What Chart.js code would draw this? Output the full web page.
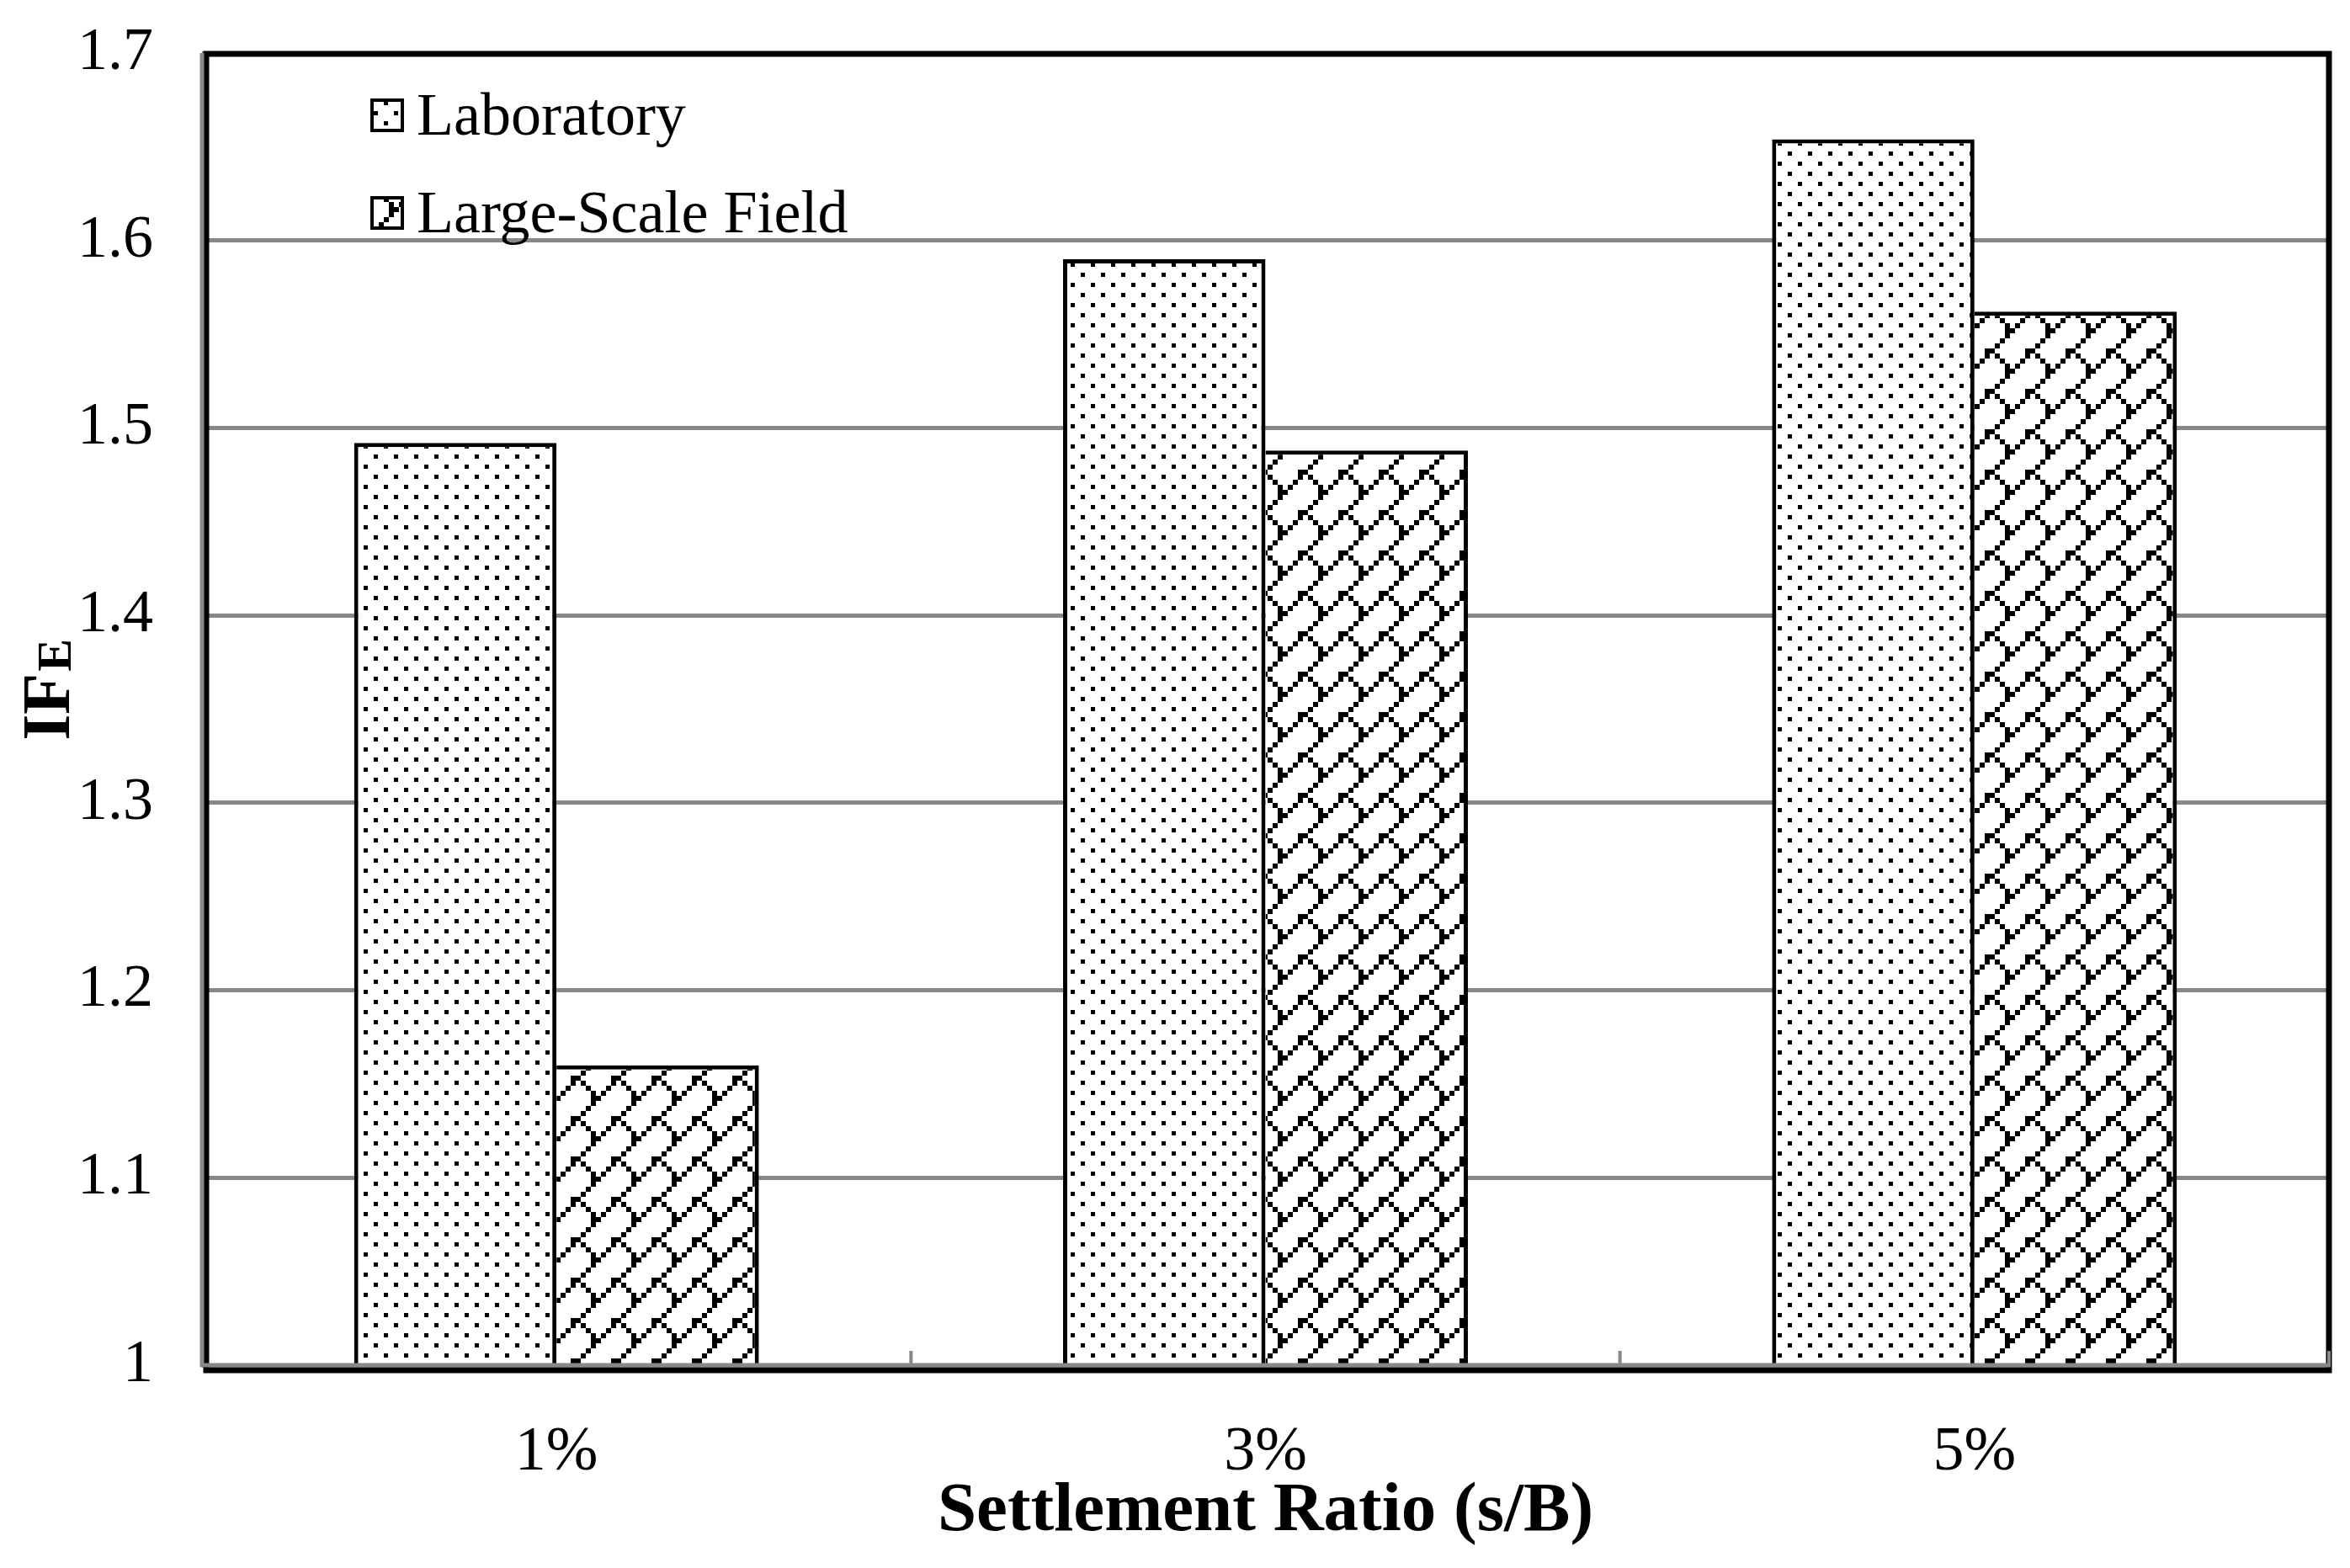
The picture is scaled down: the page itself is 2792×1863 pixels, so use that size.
<!DOCTYPE html>
<html>
<head>
<meta charset="utf-8">
<script src="https://cdn.jsdelivr.net/npm/chart.js@4.4.0/dist/chart.umd.min.js"></script>
<style>
  html, body { margin: 0; padding: 0; background: #fff; overflow: hidden; }
  canvas { display: block; }
</style>
</head>
<body>
<canvas id="ifeChart" width="2792" height="1863" style="width:2792px;height:1863px"></canvas>
<script>
// values
const categories = ['1%', '3%', '5%'];
const seriesNames = ['Laboratory', 'Large-Scale Field'];
const labValues = [1.492, 1.590, 1.654];
const fieldValues = [1.160, 1.488, 1.562];
const yMin = 1, yMax = 1.7, yStep = 0.1;

const GRID = '#888888';
const FONT = "'Liberation Serif', 'Times New Roman', serif";

// dotted fill (Excel style)
function dotPattern() {
    const t = document.createElement('canvas');
    t.width = 24; t.height = 24;
    const c = t.getContext('2d');
    c.fillStyle = '#fff'; c.fillRect(0, 0, 24, 24);
    c.fillStyle = '#000';
    c.fillRect(0, 0, 5, 5);
    c.fillRect(12, 12, 5, 5);
    return c.createPattern(t, 'repeat');
}

// shingle fill: one "/" diagonal per tile plus a short "\" link, 6px cells
function shinglePattern() {
    const cells = [];
    for (let col = 0; col < 8; col++) cells.push([col, 7 - col]);
    cells.push([3, 6], [4, 7], [5, 0]);   // the "\" link
    cells.push([1, 5], [5, 1]);           // thicker joints
    const u = 6;
    const t = document.createElement('canvas');
    t.width = 8 * u; t.height = 8 * u;
    const c = t.getContext('2d');
    c.fillStyle = '#fff'; c.fillRect(0, 0, t.width, t.height);
    c.fillStyle = '#000';
    cells.forEach(([col, row]) => c.fillRect(col * u, row * u, u, u));
    return c.createPattern(t, 'repeat');
}

const fills = [dotPattern(), shinglePattern()];

const framePlugin = {
    id: 'frame',
    afterDatasetsDraw(chart) {
        const { ctx, chartArea: a } = chart;
        ctx.save();
        // black frame
        ctx.strokeStyle = '#000';
        ctx.lineWidth = 7;
        ctx.strokeRect(a.left + 5, a.top + 1, a.right - a.left - 5, a.bottom - a.top + 5);
        // gray axis lines
        ctx.strokeStyle = GRID;
        ctx.lineWidth = 5;
        ctx.beginPath();
        ctx.moveTo(a.left, a.top);
        ctx.lineTo(a.left, a.bottom + 2);
        ctx.moveTo(a.left - 2, a.bottom);
        ctx.lineTo(a.right + 2, a.bottom);
        ctx.stroke();
        // category boundary ticks, pointing up
        const xs = chart.scales.x;
        const half = (xs.getPixelForValue(1) - xs.getPixelForValue(0)) / 2;
        ctx.lineWidth = 4;
        ctx.beginPath();
        for (let i = 0; i <= categories.length; i++) {
            const px = i < categories.length ? xs.getPixelForValue(i) - half : xs.getPixelForValue(i - 1) + half;
            ctx.moveTo(px, a.bottom - 17);
            ctx.lineTo(px, a.bottom);
        }
        ctx.stroke();
        ctx.restore();
    },
    afterDraw(chart) {
        const { ctx, chartArea: a } = chart;
        ctx.save();
        // y title IF with subscript E
        ctx.translate(82, (a.top + a.bottom) / 2 - 22);
        ctx.rotate(-Math.PI / 2);
        ctx.fillStyle = '#000';
        ctx.textBaseline = 'alphabetic';
        ctx.font = 'bold 80px ' + FONT;
        const w1 = ctx.measureText('IF').width;
        ctx.font = 'bold 58px ' + FONT;
        const w2 = ctx.measureText('E').width;
        const x0 = -(w1 + w2) / 2;
        ctx.font = 'bold 80px ' + FONT;
        ctx.fillText('IF', x0, 0);
        ctx.font = 'bold 58px ' + FONT;
        ctx.fillText('E', x0 + w1 + 2, 2);
        ctx.restore();

        // legend inside the plot
        ctx.save();
        ctx.font = '72px ' + FONT;
        ctx.textBaseline = 'alphabetic';
        seriesNames.forEach((name, i) => {
            const bx = a.left + 200, by = a.top + 54 + i * 116;
            ctx.fillStyle = fills[i];
            ctx.fillRect(bx, by, 40, 40);
            ctx.strokeStyle = '#000';
            ctx.lineWidth = 4;
            ctx.strokeRect(bx + 2, by + 2, 36, 36);
            ctx.fillStyle = '#000';
            ctx.fillText(name, a.left + 255, by + 43);
        });
        ctx.restore();
    }
};

const ctx = document.getElementById('ifeChart').getContext('2d');
new Chart(ctx, {
    type: 'bar',
    data: {
        labels: categories,
        datasets: [{
            label: seriesNames[0],
            data: labValues,
            backgroundColor: fills[0],
            borderColor: '#000',
            borderWidth: 5,
            borderSkipped: 'bottom'
        }, {
            label: seriesNames[1],
            data: fieldValues,
            backgroundColor: fills[1],
            borderColor: '#000',
            borderWidth: 5,
            borderSkipped: 'left'
        }]
    },
    options: {
        responsive: false,
        animation: false,
        devicePixelRatio: 1,
        layout: { padding: { top: 63, right: 25, left: 0, bottom: 0 } },
        datasets: { bar: { categoryPercentage: 0.571, barPercentage: 1.0 } },
        plugins: {
            legend: { display: false },
            tooltip: { enabled: false }
        },
        scales: {
            x: {
                grid: { display: false },
                border: { display: false },
                ticks: {
                    color: '#000',
                    font: { family: FONT, size: 74 },
                    padding: 52
                },
                title: {
                    display: true,
                    text: 'Settlement Ratio (s/B)',
                    color: '#000',
                    font: { family: FONT, size: 83, weight: 'bold' },
                    padding: { top: 0, bottom: 17 }
                },
                afterFit(scale) { scale.height = 241; }
            },
            y: {
                min: yMin,
                max: yMax,
                ticks: {
                    stepSize: yStep,
                    color: '#000',
                    font: { family: FONT, size: 72 },
                    padding: 58,
                    callback: v => String(Math.round(v * 10) / 10)
                },
                grid: {
                    color: GRID,
                    lineWidth: 5,
                    drawTicks: false
                },
                border: { display: false },
                afterFit(scale) {
                    scale.width = 240;
                    scale.paddingTop = 0;
                    scale.paddingBottom = 0;
                }
            }
        }
    },
    plugins: [framePlugin]
});
</script>
</body>
</html>
